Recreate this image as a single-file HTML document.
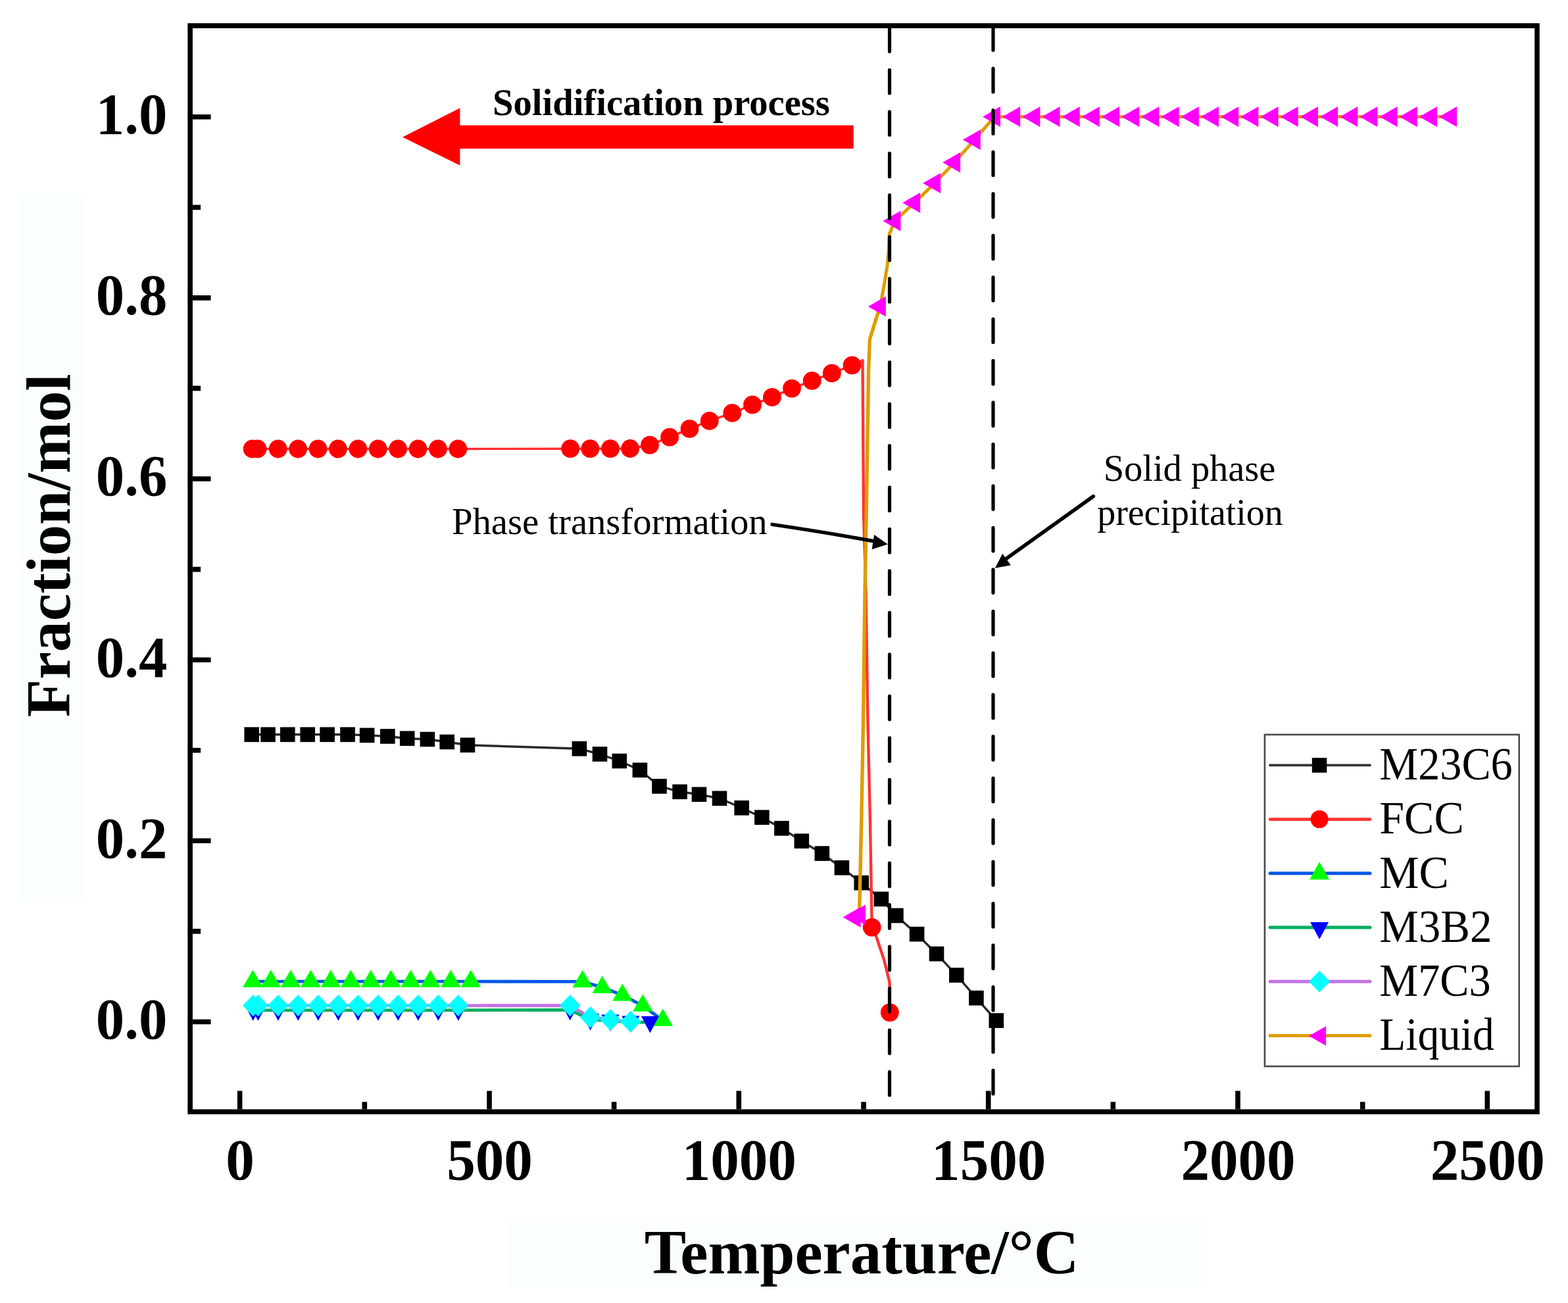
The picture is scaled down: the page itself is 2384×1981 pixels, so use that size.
<!DOCTYPE html>
<html><head><meta charset="utf-8"><title>Fraction vs Temperature</title>
<style>html,body{margin:0;padding:0;background:#fff;}svg{display:block;}</style></head>
<body><svg width="2384" height="1981" viewBox="0 0 2384 1981">
<rect x="0" y="0" width="2384" height="1981" fill="#ffffff"/>
<rect x="28" y="293" width="101" height="1080" fill="#fbfefe"/>
<rect x="771" y="1857" width="1065" height="102" fill="#fbfefe"/>
<path d="M382.7 1116.8 L407.5 1116.8 L437.3 1116.8 L467.7 1116.8 L497.6 1116.8 L528.5 1116.8 L558.1 1117.9 L589.3 1119.5 L619.2 1122.7 L649.9 1124 L679.7 1128 L710.9 1132.8 L880.9 1138.3 L912 1146.5 L941.8 1157 L972.9 1170.8 L1002.5 1195.4 L1033.6 1203.8 L1063 1207.8 L1094 1213.8 L1127.7 1228.3 L1158.4 1242.7 L1188.4 1259.3 L1218.8 1278.7 L1249.8 1297.6 L1279.9 1319.3 L1309.7 1342.2 L1339.9 1366.9 L1362.4 1392 L1394.1 1420.2 L1424 1450.2 L1454.3 1482.6 L1484.4 1517.3 L1514.8 1551.6" fill="none" stroke="#2a2a2a" stroke-width="3.4" stroke-linejoin="round" stroke-linecap="round"/>
<rect x="371.4" y="1105.5" width="22.6" height="22.6" fill="#000000"/>
<rect x="396.2" y="1105.5" width="22.6" height="22.6" fill="#000000"/>
<rect x="426" y="1105.5" width="22.6" height="22.6" fill="#000000"/>
<rect x="456.4" y="1105.5" width="22.6" height="22.6" fill="#000000"/>
<rect x="486.3" y="1105.5" width="22.6" height="22.6" fill="#000000"/>
<rect x="517.2" y="1105.5" width="22.6" height="22.6" fill="#000000"/>
<rect x="546.8" y="1106.6" width="22.6" height="22.6" fill="#000000"/>
<rect x="578" y="1108.2" width="22.6" height="22.6" fill="#000000"/>
<rect x="607.9" y="1111.4" width="22.6" height="22.6" fill="#000000"/>
<rect x="638.6" y="1112.7" width="22.6" height="22.6" fill="#000000"/>
<rect x="668.4" y="1116.7" width="22.6" height="22.6" fill="#000000"/>
<rect x="699.6" y="1121.5" width="22.6" height="22.6" fill="#000000"/>
<rect x="869.6" y="1127" width="22.6" height="22.6" fill="#000000"/>
<rect x="900.7" y="1135.2" width="22.6" height="22.6" fill="#000000"/>
<rect x="930.5" y="1145.7" width="22.6" height="22.6" fill="#000000"/>
<rect x="961.6" y="1159.5" width="22.6" height="22.6" fill="#000000"/>
<rect x="991.2" y="1184.1" width="22.6" height="22.6" fill="#000000"/>
<rect x="1022.3" y="1192.5" width="22.6" height="22.6" fill="#000000"/>
<rect x="1051.7" y="1196.5" width="22.6" height="22.6" fill="#000000"/>
<rect x="1082.7" y="1202.5" width="22.6" height="22.6" fill="#000000"/>
<rect x="1116.4" y="1217" width="22.6" height="22.6" fill="#000000"/>
<rect x="1147.1" y="1231.4" width="22.6" height="22.6" fill="#000000"/>
<rect x="1177.1" y="1248" width="22.6" height="22.6" fill="#000000"/>
<rect x="1207.5" y="1267.4" width="22.6" height="22.6" fill="#000000"/>
<rect x="1238.5" y="1286.3" width="22.6" height="22.6" fill="#000000"/>
<rect x="1268.6" y="1308" width="22.6" height="22.6" fill="#000000"/>
<rect x="1298.4" y="1330.9" width="22.6" height="22.6" fill="#000000"/>
<rect x="1328.6" y="1355.6" width="22.6" height="22.6" fill="#000000"/>
<rect x="1351.1" y="1380.7" width="22.6" height="22.6" fill="#000000"/>
<rect x="1382.8" y="1408.9" width="22.6" height="22.6" fill="#000000"/>
<rect x="1412.7" y="1438.9" width="22.6" height="22.6" fill="#000000"/>
<rect x="1443" y="1471.3" width="22.6" height="22.6" fill="#000000"/>
<rect x="1473.1" y="1506" width="22.6" height="22.6" fill="#000000"/>
<rect x="1503.5" y="1540.3" width="22.6" height="22.6" fill="#000000"/>
<path d="M383.6 682.5 L391.6 682.5 L422.7 682.5 L453.1 682.5 L483.5 682.5 L513.9 682.5 L544.3 682.5 L574.7 682.5 L605.1 682.5 L635.5 682.5 L665.9 682.5 L696.3 682.5 L867.2 682.2 L897.3 682.2 L928 682.2 L958.1 682 L988 676.7 L1018.1 664.7 L1048.5 651.9 L1078.7 639.9 L1113.3 627.9 L1144 615.4 L1173.9 603.9 L1204 590.6 L1234.7 578.8 L1264.8 567.4 L1295.5 555.4 L1311.5 548" fill="none" stroke="#ff2a2a" stroke-width="3.4" stroke-linejoin="round" stroke-linecap="round"/>
<path d="M1311.5 548 L1313 780 L1316.5 900 L1319.5 1100 L1323 1250 L1325.7 1409.8 L1332.3 1424 L1343.7 1458 L1352.2 1492 L1352.8 1499.6 L1352.8 1539.3" fill="none" stroke="#ff3333" stroke-width="4.4" stroke-linejoin="round" stroke-linecap="round"/>
<circle cx="383.6" cy="682.5" r="13.9" fill="#ff0000"/>
<circle cx="391.6" cy="682.5" r="13.9" fill="#ff0000"/>
<circle cx="422.7" cy="682.5" r="13.9" fill="#ff0000"/>
<circle cx="453.1" cy="682.5" r="13.9" fill="#ff0000"/>
<circle cx="483.5" cy="682.5" r="13.9" fill="#ff0000"/>
<circle cx="513.9" cy="682.5" r="13.9" fill="#ff0000"/>
<circle cx="544.3" cy="682.5" r="13.9" fill="#ff0000"/>
<circle cx="574.7" cy="682.5" r="13.9" fill="#ff0000"/>
<circle cx="605.1" cy="682.5" r="13.9" fill="#ff0000"/>
<circle cx="635.5" cy="682.5" r="13.9" fill="#ff0000"/>
<circle cx="665.9" cy="682.5" r="13.9" fill="#ff0000"/>
<circle cx="696.3" cy="682.5" r="13.9" fill="#ff0000"/>
<circle cx="867.2" cy="682.2" r="13.9" fill="#ff0000"/>
<circle cx="897.3" cy="682.2" r="13.9" fill="#ff0000"/>
<circle cx="928" cy="682.2" r="13.9" fill="#ff0000"/>
<circle cx="958.1" cy="682" r="13.9" fill="#ff0000"/>
<circle cx="988" cy="676.7" r="13.9" fill="#ff0000"/>
<circle cx="1018.1" cy="664.7" r="13.9" fill="#ff0000"/>
<circle cx="1048.5" cy="651.9" r="13.9" fill="#ff0000"/>
<circle cx="1078.7" cy="639.9" r="13.9" fill="#ff0000"/>
<circle cx="1113.3" cy="627.9" r="13.9" fill="#ff0000"/>
<circle cx="1144" cy="615.4" r="13.9" fill="#ff0000"/>
<circle cx="1173.9" cy="603.9" r="13.9" fill="#ff0000"/>
<circle cx="1204" cy="590.6" r="13.9" fill="#ff0000"/>
<circle cx="1234.7" cy="578.8" r="13.9" fill="#ff0000"/>
<circle cx="1264.8" cy="567.4" r="13.9" fill="#ff0000"/>
<circle cx="1295.5" cy="555.4" r="13.9" fill="#ff0000"/>
<circle cx="1325.7" cy="1409.8" r="13.9" fill="#ff0000"/>
<circle cx="1352.8" cy="1539.3" r="13.9" fill="#ff0000"/>
<path d="M384.4 1492.2 L411.8 1492.2 L441.9 1492.2 L472.4 1492.2 L502.9 1492.2 L533.3 1492.2 L563.8 1492.2 L594.3 1492.2 L624.4 1492.2 L654.3 1492.2 L685.3 1492.2 L715.8 1492.2 L885.7 1492.4 L915.7 1501.1 L946.4 1513 L977.2 1529 L1007.8 1551.2" fill="none" stroke="#0058e6" stroke-width="4.8" stroke-linejoin="round" stroke-linecap="round"/>
<path d="M384.4 1474.6L399.6 1501L369.1 1501Z" fill="#00ff00"/>
<path d="M411.8 1474.6L427.1 1501L396.6 1501Z" fill="#00ff00"/>
<path d="M441.9 1474.6L457.1 1501L426.6 1501Z" fill="#00ff00"/>
<path d="M472.4 1474.6L487.6 1501L457.1 1501Z" fill="#00ff00"/>
<path d="M502.9 1474.6L518.1 1501L487.6 1501Z" fill="#00ff00"/>
<path d="M533.3 1474.6L548.5 1501L518 1501Z" fill="#00ff00"/>
<path d="M563.8 1474.6L579 1501L548.5 1501Z" fill="#00ff00"/>
<path d="M594.3 1474.6L609.5 1501L579 1501Z" fill="#00ff00"/>
<path d="M624.4 1474.6L639.6 1501L609.1 1501Z" fill="#00ff00"/>
<path d="M654.3 1474.6L669.5 1501L639 1501Z" fill="#00ff00"/>
<path d="M685.3 1474.6L700.5 1501L670 1501Z" fill="#00ff00"/>
<path d="M715.8 1474.6L731 1501L700.5 1501Z" fill="#00ff00"/>
<path d="M885.7 1474.8L901 1501.2L870.5 1501.2Z" fill="#00ff00"/>
<path d="M915.7 1483.5L931 1509.9L900.5 1509.9Z" fill="#00ff00"/>
<path d="M946.4 1495.4L961.6 1521.8L931.1 1521.8Z" fill="#00ff00"/>
<path d="M977.2 1511.4L992.5 1537.8L962 1537.8Z" fill="#00ff00"/>
<path d="M1007.8 1533.6L1023 1560L992.5 1560Z" fill="#00ff00"/>
<path d="M384.8 1535.9 L392.4 1535.9 L422.9 1535.9 L453.3 1535.9 L483.8 1535.9 L514.3 1535.9 L544.4 1535.9 L574.9 1535.9 L605.3 1535.9 L635.8 1535.9 L666.3 1535.9 L696.8 1535.9 L866.7 1535.4 L897.6 1550.4 L928 1551.9 L958.8 1553.9 L988.4 1554.3" fill="none" stroke="#00ad5f" stroke-width="4.8" stroke-linejoin="round" stroke-linecap="round"/>
<path d="M384.8 1552L398.3 1526.5L371.3 1526.5Z" fill="#0000ff"/>
<path d="M392.4 1552L405.9 1526.5L378.9 1526.5Z" fill="#0000ff"/>
<path d="M422.9 1552L436.4 1526.5L409.4 1526.5Z" fill="#0000ff"/>
<path d="M453.3 1552L466.8 1526.5L439.8 1526.5Z" fill="#0000ff"/>
<path d="M483.8 1552L497.3 1526.5L470.3 1526.5Z" fill="#0000ff"/>
<path d="M514.3 1552L527.8 1526.5L500.8 1526.5Z" fill="#0000ff"/>
<path d="M544.4 1552L557.9 1526.5L530.9 1526.5Z" fill="#0000ff"/>
<path d="M574.9 1552L588.4 1526.5L561.4 1526.5Z" fill="#0000ff"/>
<path d="M605.3 1552L618.8 1526.5L591.8 1526.5Z" fill="#0000ff"/>
<path d="M635.8 1552L649.3 1526.5L622.3 1526.5Z" fill="#0000ff"/>
<path d="M666.3 1552L679.8 1526.5L652.8 1526.5Z" fill="#0000ff"/>
<path d="M696.8 1552L710.3 1526.5L683.3 1526.5Z" fill="#0000ff"/>
<path d="M866.7 1551.5L880.2 1526L853.2 1526Z" fill="#0000ff"/>
<path d="M897.6 1566.5L911.1 1541L884.1 1541Z" fill="#0000ff"/>
<path d="M928 1568L941.5 1542.5L914.5 1542.5Z" fill="#0000ff"/>
<path d="M958.8 1570L972.3 1544.5L945.3 1544.5Z" fill="#0000ff"/>
<path d="M988.4 1570.4L1001.9 1544.9L974.9 1544.9Z" fill="#0000ff"/>
<path d="M384.8 1528.8 L392.4 1528.8 L422.9 1528.8 L453.3 1528.8 L483.8 1528.8 L514.3 1528.8 L544.4 1528.8 L574.9 1528.8 L605.3 1528.8 L635.8 1528.8 L666.3 1528.8 L696.8 1528.8 L866.9 1528.7 L897.6 1546.8 L928.2 1550.6 L958.8 1553.3" fill="none" stroke="#c473e3" stroke-width="4.8" stroke-linejoin="round" stroke-linecap="round"/>
<path d="M384.8 1512.3L400.6 1528.8L384.8 1545.3L369.1 1528.8Z" fill="#00ffff"/>
<path d="M392.4 1512.3L408.1 1528.8L392.4 1545.3L376.6 1528.8Z" fill="#00ffff"/>
<path d="M422.9 1512.3L438.6 1528.8L422.9 1545.3L407.1 1528.8Z" fill="#00ffff"/>
<path d="M453.3 1512.3L469.1 1528.8L453.3 1545.3L437.6 1528.8Z" fill="#00ffff"/>
<path d="M483.8 1512.3L499.6 1528.8L483.8 1545.3L468.1 1528.8Z" fill="#00ffff"/>
<path d="M514.3 1512.3L530 1528.8L514.3 1545.3L498.5 1528.8Z" fill="#00ffff"/>
<path d="M544.4 1512.3L560.1 1528.8L544.4 1545.3L528.6 1528.8Z" fill="#00ffff"/>
<path d="M574.9 1512.3L590.6 1528.8L574.9 1545.3L559.1 1528.8Z" fill="#00ffff"/>
<path d="M605.3 1512.3L621 1528.8L605.3 1545.3L589.5 1528.8Z" fill="#00ffff"/>
<path d="M635.8 1512.3L651.5 1528.8L635.8 1545.3L620 1528.8Z" fill="#00ffff"/>
<path d="M666.3 1512.3L682 1528.8L666.3 1545.3L650.5 1528.8Z" fill="#00ffff"/>
<path d="M696.8 1512.3L712.5 1528.8L696.8 1545.3L681 1528.8Z" fill="#00ffff"/>
<path d="M866.9 1512.2L882.6 1528.7L866.9 1545.2L851.1 1528.7Z" fill="#00ffff"/>
<path d="M897.6 1530.3L913.4 1546.8L897.6 1563.3L881.9 1546.8Z" fill="#00ffff"/>
<path d="M928.2 1534.1L944 1550.6L928.2 1567.1L912.5 1550.6Z" fill="#00ffff"/>
<path d="M958.8 1536.8L974.5 1553.3L958.8 1569.8L943 1553.3Z" fill="#00ffff"/>
<path d="M1306.8 1390 L1306.8 1378.6 L1309.7 1250 L1312.4 1100 L1315 900 L1317.2 780 L1320.6 563.5 L1322.4 515.8 L1337.9 466" fill="none" stroke="#de9d00" stroke-width="5.4" stroke-linejoin="round" stroke-linecap="round"/>
<path d="M1337.9 466 L1341 451.3 L1345.3 427 L1349.2 402.6 L1351.2 378.2 L1352.2 355.8 L1360.4 336 L1360.4 336 L1390.1 308.3 L1421.1 278.6 L1451.1 247 L1481.8 212.4 L1512 177.4 L1542.2 177.4 L1572.4 177.4 L1602.5 177.4 L1632.7 177.4 L1662.9 177.4 L1693.1 177.4 L1723.3 177.4 L1753.4 177.4 L1783.6 177.4 L1813.8 177.4 L1844 177.4 L1874.2 177.4 L1904.3 177.4 L1934.5 177.4 L1964.7 177.4 L1994.9 177.4 L2025.1 177.4 L2055.2 177.4 L2085.4 177.4 L2115.6 177.4 L2145.8 177.4 L2176 177.4 L2206.1 177.4" fill="none" stroke="#de9d00" stroke-width="5.0" stroke-linejoin="round" stroke-linecap="round"/>
<path d="M1281.5 1394.5L1308.5 1379L1308.5 1410Z" fill="#ff00ff"/>
<path d="M1289 1391L1316 1375.5L1316 1406.5Z" fill="#ff00ff"/>
<path d="M1319.9 466L1346.9 450.5L1346.9 481.5Z" fill="#ff00ff"/>
<path d="M1342.4 336L1369.4 320.5L1369.4 351.5Z" fill="#ff00ff"/>
<path d="M1372.1 308.3L1399.1 292.8L1399.1 323.8Z" fill="#ff00ff"/>
<path d="M1403.1 278.6L1430.1 263.1L1430.1 294.1Z" fill="#ff00ff"/>
<path d="M1433.1 247L1460.1 231.5L1460.1 262.5Z" fill="#ff00ff"/>
<path d="M1463.8 212.4L1490.8 196.9L1490.8 227.9Z" fill="#ff00ff"/>
<path d="M1494 177.4L1521 161.9L1521 192.9Z" fill="#ff00ff"/>
<path d="M1524.2 177.4L1551.2 161.9L1551.2 192.9Z" fill="#ff00ff"/>
<path d="M1554.4 177.4L1581.4 161.9L1581.4 192.9Z" fill="#ff00ff"/>
<path d="M1584.5 177.4L1611.5 161.9L1611.5 192.9Z" fill="#ff00ff"/>
<path d="M1614.7 177.4L1641.7 161.9L1641.7 192.9Z" fill="#ff00ff"/>
<path d="M1644.9 177.4L1671.9 161.9L1671.9 192.9Z" fill="#ff00ff"/>
<path d="M1675.1 177.4L1702.1 161.9L1702.1 192.9Z" fill="#ff00ff"/>
<path d="M1705.3 177.4L1732.3 161.9L1732.3 192.9Z" fill="#ff00ff"/>
<path d="M1735.4 177.4L1762.4 161.9L1762.4 192.9Z" fill="#ff00ff"/>
<path d="M1765.6 177.4L1792.6 161.9L1792.6 192.9Z" fill="#ff00ff"/>
<path d="M1795.8 177.4L1822.8 161.9L1822.8 192.9Z" fill="#ff00ff"/>
<path d="M1826 177.4L1853 161.9L1853 192.9Z" fill="#ff00ff"/>
<path d="M1856.2 177.4L1883.2 161.9L1883.2 192.9Z" fill="#ff00ff"/>
<path d="M1886.3 177.4L1913.3 161.9L1913.3 192.9Z" fill="#ff00ff"/>
<path d="M1916.5 177.4L1943.5 161.9L1943.5 192.9Z" fill="#ff00ff"/>
<path d="M1946.7 177.4L1973.7 161.9L1973.7 192.9Z" fill="#ff00ff"/>
<path d="M1976.9 177.4L2003.9 161.9L2003.9 192.9Z" fill="#ff00ff"/>
<path d="M2007.1 177.4L2034.1 161.9L2034.1 192.9Z" fill="#ff00ff"/>
<path d="M2037.2 177.4L2064.2 161.9L2064.2 192.9Z" fill="#ff00ff"/>
<path d="M2067.4 177.4L2094.4 161.9L2094.4 192.9Z" fill="#ff00ff"/>
<path d="M2097.6 177.4L2124.6 161.9L2124.6 192.9Z" fill="#ff00ff"/>
<path d="M2127.8 177.4L2154.8 161.9L2154.8 192.9Z" fill="#ff00ff"/>
<path d="M2158 177.4L2185 161.9L2185 192.9Z" fill="#ff00ff"/>
<path d="M2188.1 177.4L2215.1 161.9L2215.1 192.9Z" fill="#ff00ff"/>
<path d="M1352.5 42.8V1665.5" stroke="#000" stroke-width="5.2" stroke-dasharray="35.5 27.97" stroke-linecap="round" fill="none"/>
<path d="M1510 40.7V1663.5" stroke="#000" stroke-width="5.2" stroke-dasharray="35.5 27.97" stroke-linecap="round" fill="none"/>
<path d="M612 208.4L699.4 164.2V190.4H1297.7V226H699.4V251.6Z" fill="#ff0000"/>
<text transform="translate(749 175.2) scale(0.9840 1)" font-family="Liberation Serif, serif" font-size="57.5" font-weight="bold">Solidification process</text>
<text transform="translate(687 811.7) scale(0.9937 1)" font-family="Liberation Serif, serif" font-size="57">Phase transformation</text>
<text transform="translate(1808.5 730.6) scale(0.9900 1)" font-family="Liberation Serif, serif" font-size="57" text-anchor="middle">Solid phase</text>
<text transform="translate(1809.5 798) scale(0.9810 1)" font-family="Liberation Serif, serif" font-size="57" text-anchor="middle">precipitation</text>
<path d="M1174 797.3Q1260 810 1330 823" stroke="#000" stroke-width="5.4" fill="none" stroke-linecap="round"/>
<path d="M1349.8 827.5L1329.2 812.9L1325.6 835.3Z" fill="#000"/>
<path d="M1662.3 754.6L1529 850" stroke="#000" stroke-width="5.6" fill="none" stroke-linecap="round"/>
<path d="M1512.9 863.8L1524.2 841.7L1536.8 859.2Z" fill="#000"/>
<rect x="289.1" y="39.1" width="2047.9" height="1651.2" fill="none" stroke="#000" stroke-width="7.6"/>
<path d="M293 1553.5H320.5 M293 1278.3H320.5 M293 1003.2H320.5 M293 728H320.5 M293 452.9H320.5 M293 177.7H320.5 M293 1415.9H305 M293 1140.8H305 M293 865.6H305 M293 590.4H305 M293 315.3H305 M364.6 1686.5V1658.6 M744 1686.5V1658.6 M1123.3 1686.5V1658.6 M1502.7 1686.5V1658.6 M1882 1686.5V1658.6 M2261.3 1686.5V1658.6 M554.3 1686.5V1675.2 M933.6 1686.5V1675.2 M1313 1686.5V1675.2 M1692.3 1686.5V1675.2 M2071.7 1686.5V1675.2" stroke="#000" stroke-width="7.6" fill="none"/>
<text transform="translate(254.3 1578.8) scale(0.9750 1)" font-family="Liberation Serif, serif" font-size="89" font-weight="bold" text-anchor="end">0.0</text>
<text transform="translate(254.3 1303.6) scale(0.9750 1)" font-family="Liberation Serif, serif" font-size="89" font-weight="bold" text-anchor="end">0.2</text>
<text transform="translate(254.3 1028.5) scale(0.9750 1)" font-family="Liberation Serif, serif" font-size="89" font-weight="bold" text-anchor="end">0.4</text>
<text transform="translate(254.3 753.3) scale(0.9750 1)" font-family="Liberation Serif, serif" font-size="89" font-weight="bold" text-anchor="end">0.6</text>
<text transform="translate(254.3 478.2) scale(0.9750 1)" font-family="Liberation Serif, serif" font-size="89" font-weight="bold" text-anchor="end">0.8</text>
<text transform="translate(254.3 203) scale(0.9750 1)" font-family="Liberation Serif, serif" font-size="89" font-weight="bold" text-anchor="end">1.0</text>
<text transform="translate(365.1 1792.8) scale(0.9790 1)" font-family="Liberation Serif, serif" font-size="89" font-weight="bold" text-anchor="middle">0</text>
<text transform="translate(744.5 1792.8) scale(0.9790 1)" font-family="Liberation Serif, serif" font-size="89" font-weight="bold" text-anchor="middle">500</text>
<text transform="translate(1123.8 1792.8) scale(0.9790 1)" font-family="Liberation Serif, serif" font-size="89" font-weight="bold" text-anchor="middle">1000</text>
<text transform="translate(1503.2 1792.8) scale(0.9790 1)" font-family="Liberation Serif, serif" font-size="89" font-weight="bold" text-anchor="middle">1500</text>
<text transform="translate(1882.5 1792.8) scale(0.9790 1)" font-family="Liberation Serif, serif" font-size="89" font-weight="bold" text-anchor="middle">2000</text>
<text transform="translate(2261.8 1792.8) scale(0.9790 1)" font-family="Liberation Serif, serif" font-size="89" font-weight="bold" text-anchor="middle">2500</text>
<text transform="translate(1310 1935.5)" font-family="Liberation Serif, serif" font-size="95" font-weight="bold" text-anchor="middle">Temperature/°C</text>
<text transform="translate(105.5 829.3) rotate(-90) scale(0.9840 1)" font-family="Liberation Serif, serif" font-size="95.5" font-weight="bold" text-anchor="middle">Fraction/mol</text>
<rect x="1922.9" y="1116.9" width="386.8" height="504.3" fill="none" stroke="#4a4a4a" stroke-width="2.6"/>
<path d="M1931 1163.4H2083" stroke="#333" stroke-width="3.6" stroke-linecap="round"/>
<rect x="1994.8" y="1152.2" width="22.5" height="22.5" fill="#000000"/>
<text transform="translate(2097.3 1184.6) scale(0.9600 1)" font-family="Liberation Serif, serif" font-size="69">M23C6</text>
<path d="M1931 1245.6H2083" stroke="#ff3333" stroke-width="4.6" stroke-linecap="round"/>
<circle cx="2006.1" cy="1245.6" r="13.5" fill="#ff0000"/>
<text transform="translate(2097.3 1266.8) scale(0.9850 1)" font-family="Liberation Serif, serif" font-size="69">FCC</text>
<path d="M1931 1327.8H2083" stroke="#0058e6" stroke-width="5" stroke-linecap="round"/>
<path d="M2006.1 1310.3L2021.1 1337.3L1991.1 1337.3Z" fill="#00ff00"/>
<text transform="translate(2097.3 1349.8) scale(0.9830 1)" font-family="Liberation Serif, serif" font-size="69">MC</text>
<path d="M1931 1410H2083" stroke="#00ad5f" stroke-width="5" stroke-linecap="round"/>
<path d="M2006.1 1428.1L2020.1 1402.1L1992.1 1402.1Z" fill="#0000ff"/>
<text transform="translate(2097.3 1432) scale(0.9710 1)" font-family="Liberation Serif, serif" font-size="69">M3B2</text>
<path d="M1931 1492.2H2083" stroke="#c473e3" stroke-width="5" stroke-linecap="round"/>
<path d="M2006.1 1475.7L2022.1 1492.2L2006.1 1508.7L1990.1 1492.2Z" fill="#00ffff"/>
<text transform="translate(2097.3 1514.2) scale(0.9600 1)" font-family="Liberation Serif, serif" font-size="69">M7C3</text>
<path d="M1931 1574.4H2083" stroke="#de9d00" stroke-width="5" stroke-linecap="round"/>
<path d="M1990 1575L2016 1560.2L2016 1589.8Z" fill="#ff00ff"/>
<text transform="translate(2097.3 1596.4) scale(0.9475 1)" font-family="Liberation Serif, serif" font-size="69">Liquid</text>
</svg></body></html>
